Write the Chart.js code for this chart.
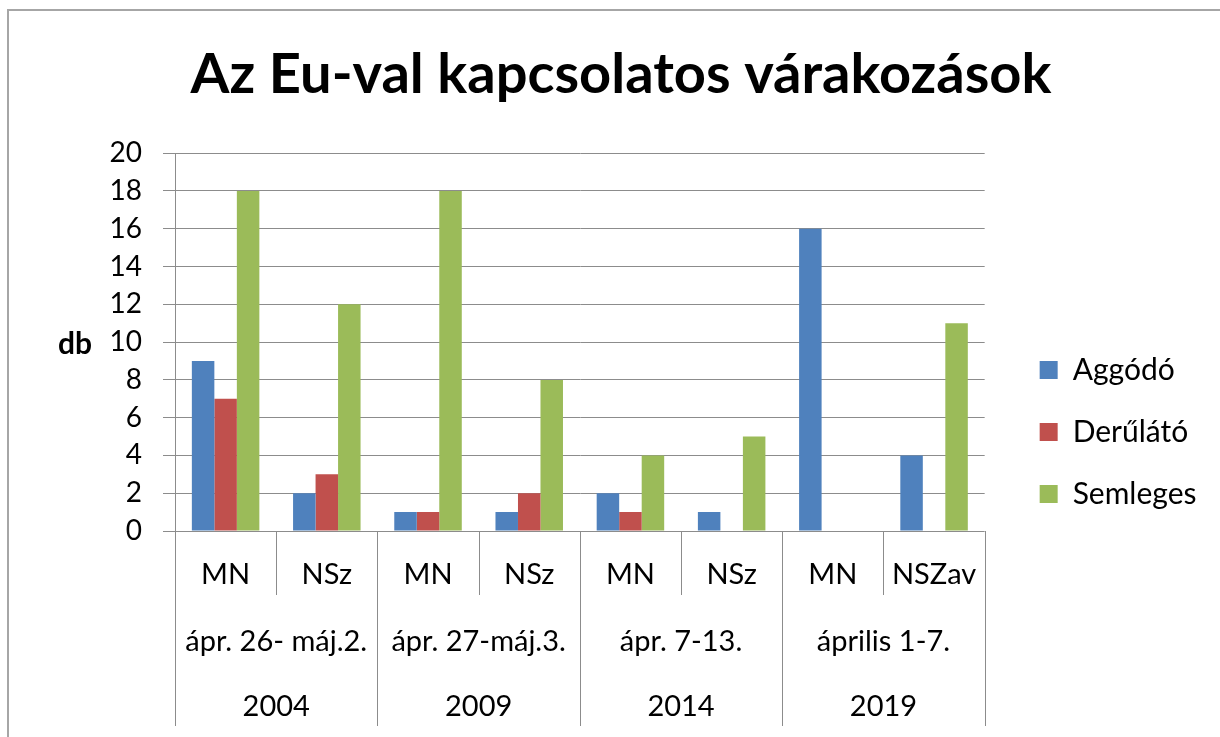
<!DOCTYPE html>
<html>
<head>
<meta charset="utf-8">
<script src="https://cdn.jsdelivr.net/npm/chart.js@4.4.1/dist/chart.umd.min.js"></script>
<style>
  html, body { margin: 0; padding: 0; background: #fff; }
  #wrap { width: 1220px; height: 737px; }
</style>
</head>
<body>
<div id="wrap"><canvas id="chart" width="1220" height="737"></canvas></div>
<script>
// values
const categories = ['MN', 'NSz', 'MN', 'NSz', 'MN', 'NSz', 'MN', 'NSZav'];
const periods = ['ápr. 26- máj.2.', 'ápr. 27-máj.3.', 'ápr. 7-13.', 'április 1-7.'];
const years = ['2004', '2009', '2014', '2019'];
const aggodo = [9, 2, 1, 1, 2, 1, 16, 4];
const derulato = [7, 3, 1, 2, 1, 0, 0, 0];
const semleges = [18, 12, 18, 8, 4, 5, 0, 11];

const gridColor = '#8c8c8c';
Chart.defaults.font.family = 'Lato';
Chart.defaults.color = '#000';

// white background and the thin chart border
const frame = {
  id: 'frame',
  beforeDraw(chart) {
    const { ctx, width, height } = chart;
    ctx.save();
    ctx.fillStyle = '#fff';
    ctx.fillRect(0, 0, width, height);
    ctx.strokeStyle = '#a6a6a6';
    ctx.lineWidth = 2;
    ctx.beginPath();
    ctx.moveTo(8, height);
    ctx.lineTo(8, 10);
    ctx.lineTo(width, 10);
    ctx.stroke();
    ctx.restore();
  }
};

// three level category axis (paper / week / year), plus the "db" unit
const groupAxis = {
  id: 'groupAxis',
  afterDraw(chart) {
    const { ctx, chartArea, scales } = chart;
    const x = scales.x;
    const half = (x.getPixelForValue(1) - x.getPixelForValue(0)) / 2;
    const top = chartArea.bottom;
    ctx.save();
    ctx.strokeStyle = gridColor;
    ctx.lineWidth = 1;
    for (let i = 0; i <= categories.length; i++) {
      const px = i < categories.length ? x.getPixelForValue(i) - half : x.getPixelForValue(i - 1) + half;
      const len = i % 2 === 0 ? 195 : 64; // group borders run through all rows
      ctx.beginPath();
      ctx.moveTo(Math.round(px) + 0.5, top);
      ctx.lineTo(Math.round(px) + 0.5, top + len);
      ctx.stroke();
    }
    ctx.fillStyle = '#000';
    ctx.textAlign = 'center';
    ctx.textBaseline = 'middle';
    ctx.font = '29px Lato';
    categories.forEach((c, i) => ctx.fillText(c, x.getPixelForValue(i), top + 44));
    periods.forEach((p, g) => {
      const cx = (x.getPixelForValue(g * 2) + x.getPixelForValue(g * 2 + 1)) / 2;
      ctx.fillText(p, cx, top + 111);
      ctx.fillText(years[g], cx, top + 176);
    });
    const y = scales.y;
    ctx.font = 'bold 30px Lato';
    ctx.fillText('db', 75, (y.top + y.bottom) / 2 + 2);
    ctx.restore();
  }
};

new Chart(document.getElementById('chart'), {
  type: 'bar',
  data: {
    labels: categories,
    datasets: [
      { label: 'Aggódó', data: aggodo, backgroundColor: '#4f81bd' },
      { label: 'Derűlátó', data: derulato, backgroundColor: '#c0504d' },
      { label: 'Semleges', data: semleges, backgroundColor: '#9bbb59' }
    ]
  },
  options: {
    responsive: false,
    animation: false,
    devicePixelRatio: 1,
    layout: { padding: { left: 41, right: 19, top: 0, bottom: 196 } },
    datasets: { bar: { categoryPercentage: 0.667, barPercentage: 1 } },
    plugins: {
      title: {
        display: true,
        text: 'Az Eu-val kapcsolatos várakozások',
        color: '#000',
        font: { family: 'Lato', size: 56, weight: 'bold' },
        padding: { top: 41, bottom: 45 }
      },
      legend: {
        position: 'right',
        align: 'end',
        labels: { boxWidth: 18, boxHeight: 18, padding: 32, color: '#000', font: { family: 'Lato', size: 30 } }
      },
      tooltip: { enabled: false }
    },
    scales: {
      x: {
        grid: { display: false },
        border: { display: false },
        ticks: { display: false },
        afterFit(s) { s.height = 10; }
      },
      y: {
        min: 0,
        max: 20,
        ticks: { stepSize: 2, color: '#000', padding: 21, font: { family: 'Lato', size: 28 } },
        grid: { color: gridColor, tickLength: 12 },
        border: { color: gridColor },
        afterFit(s) { s.width = 134; }
      },
      // empty right axis, only keeps the legend away from the plot
      y2: {
        position: 'right',
        grid: { display: false },
        border: { display: false },
        ticks: { display: false },
        afterFit(s) { s.width = 23; }
      }
    }
  },
  plugins: [frame, groupAxis]
});
</script>
</body>
</html>
